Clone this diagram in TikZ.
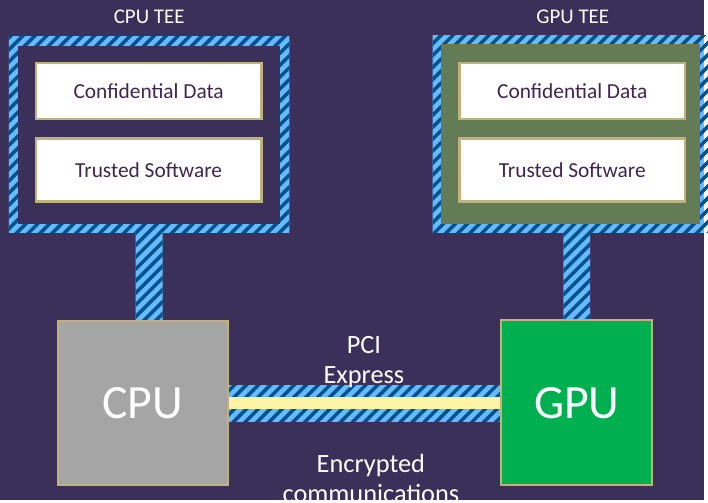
\documentclass[tikz,border=0pt]{standalone}
\usepackage{fontspec}
\setmainfont{Carlito}
\usetikzlibrary{calc}

\definecolor{bgc}{HTML}{3B3059}
\definecolor{tan}{HTML}{BFB27C}
\definecolor{hatchlight}{HTML}{66BBFF}
\definecolor{hatchdark}{HTML}{00508C}
\definecolor{textpurple}{HTML}{40264F}
\definecolor{gpugreen}{HTML}{00B050}
\definecolor{teegreen}{HTML}{647C55}
\definecolor{teeedge}{HTML}{7A7248}
\definecolor{cpugray}{HTML}{A5A5A5}
\definecolor{pciyellow}{HTML}{FFF3A6}

\pgfdeclarelayer{canvas}
\pgfdeclarelayer{links}
\pgfsetlayers{canvas,links,main}

% diagonal stripes over the whole sheet; used inside a clipped scope
\newcommand\drawhatch{%
  \fill[hatchlight] (0,0) rectangle (708,503);
  \foreach \k in {-516,-504,...,720}
    \draw[hatchdark, line width=3.5pt] (\k,515) -- (\k+527,-12);
}

\begin{document}
\begin{tikzpicture}[x=1pt,y=-1pt,
  region/.style={inner sep=0pt, outer sep=0pt},
  infobox/.style={fill=white, draw=tan, line width=2.5pt,
    minimum width=226.5pt, inner sep=0pt, outer sep=0pt,
    font=\fontsize{21.5}{25}\selectfont, text=textpurple},
  chip/.style={draw=tan, line width=2pt, inner sep=0pt, outer sep=0pt,
    text=white, font=\fontsize{48}{52}\selectfont},
  lbl/.style={text=white, inner sep=0pt, align=center}
]
\begin{pgfonlayer}{canvas}
  \useasboundingbox[fill=bgc] (0,0) rectangle (708,503);
\end{pgfonlayer}

% CPU trusted execution environment
\node[region, minimum width=282pt, minimum height=197pt] (cputee) at (150,135.5) {};
\fill[bgc] ($(cputee.north west)+(9,9)$) rectangle ($(cputee.south east)+(-9,-9)$);
\node[infobox, minimum height=56.5pt] (cpudata) at (149.5,91.5) {Confidential Data};
\node[infobox, minimum height=63.5pt] (cpusw) at (149.5,171) {Trusted Software};
\node[lbl, font=\fontsize{21}{24}\selectfont] (cputeelbl) at (150,17) {CPU TEE};

% GPU trusted execution environment
\node[region, minimum width=277pt, minimum height=198pt] (gputee) at (573.5,135) {};
\filldraw[fill=teegreen, draw=teeedge, line width=0.8pt]
  ($(gputee.north west)+(9,9)$) rectangle ($(gputee.south east)+(-9,-9)$);
\node[infobox, minimum height=56.5pt] (gpudata) at (575.5,91.5) {Confidential Data};
\node[infobox, minimum height=63.5pt] (gpusw) at (575.5,171) {Trusted Software};
\node[lbl, font=\fontsize{21}{24}\selectfont] (gputeelbl) at (576,17) {GPU TEE};

% processors
\node[chip, fill=cpugray, minimum width=171pt, minimum height=165pt] (cpu) at (143.5,405.5) {CPU};
\node[chip, fill=gpugreen, minimum width=152pt, minimum height=166pt] (gpu) at (580,405) {GPU};

% striped enclosure borders and protected links
\begin{pgfonlayer}{links}
  \begin{scope}
    \clip (cputee.south west) rectangle (cputee.north east);
    \drawhatch
  \end{scope}
  \begin{scope}
    \clip (gputee.south west) rectangle (gputee.north east);
    \drawhatch
  \end{scope}
  \begin{scope}
    \clip ([xshift=-13.5pt]cputee.south) rectangle ([xshift=13.5pt]cputee.south |- cpu.north);
    \drawhatch
  \end{scope}
  \begin{scope}
    \clip ([xshift=-13.5pt]gpu.north) rectangle ([xshift=13.5pt]gpu.north |- gputee.south);
    \drawhatch
  \end{scope}
  \begin{scope}
    \clip ([yshift=18pt]cpu.east) rectangle ([yshift=-18pt]cpu.east -| gpu.west);
    \drawhatch
  \end{scope}
  \fill[pciyellow] ([yshift=6pt]cpu.east) rectangle ([yshift=-6pt]cpu.east -| gpu.west);
\end{pgfonlayer}

\node[lbl, font=\fontsize{26.5}{30.5}\selectfont] (pcilbl) at (366,364) {PCI\\Express};
\node[lbl, font=\fontsize{26.5}{30.5}\selectfont] (enclbl) at (373,481) {Encrypted\\communications};
\end{tikzpicture}
\end{document}
